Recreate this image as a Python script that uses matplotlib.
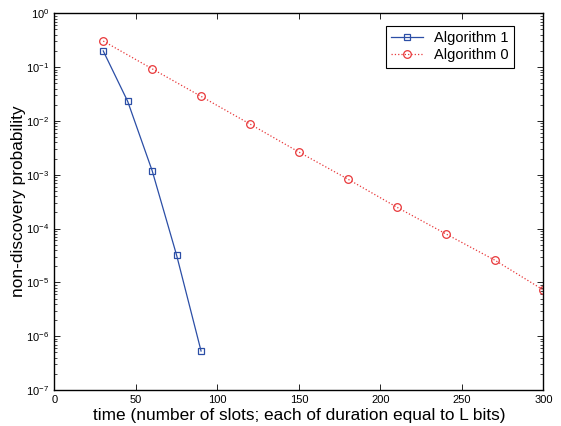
import matplotlib.pyplot as plt
from matplotlib.ticker import LogLocator, NullFormatter

# data
t_alg1 = [30, 45, 60, 75, 90]
p_alg1 = [0.20, 0.0231, 1.19e-3, 3.2e-5, 5.3e-7]

t_alg0 = [30, 60, 90, 120, 150, 180, 210, 240, 270, 300]
p_alg0 = [0.305, 0.093, 0.0286, 8.75e-3, 2.64e-3, 8.3e-4, 2.5e-4, 8.0e-5, 2.6e-5, 7.2e-6]

plt.rcParams["font.family"] = ["Liberation Sans", "DejaVu Sans"]

fig = plt.figure(figsize=(5.61, 4.26), dpi=100)
ax = fig.add_axes([0.0968, 0.0845, 0.872, 0.8843])

ax.semilogy(t_alg1, p_alg1, color="#2b4ea6", linestyle="-", linewidth=0.9,
            marker="s", markersize=4.5, markerfacecolor="none",
            markeredgewidth=0.9, label="Algorithm 1")
ax.semilogy(t_alg0, p_alg0, color="#e8383a", linestyle=":", linewidth=0.9,
            marker="o", markersize=5.5, markerfacecolor="none",
            markeredgewidth=0.9, label="Algorithm 0")

ax.set_xlim(0, 300)
ax.set_ylim(1e-7, 1)
ax.set_xticks([0, 50, 100, 150, 200, 250, 300])
ax.yaxis.set_major_locator(LogLocator(base=10, numticks=10))
ax.yaxis.set_minor_locator(LogLocator(base=10, subs=range(2, 10), numticks=20))
ax.yaxis.set_minor_formatter(NullFormatter())

ax.tick_params(which="both", direction="in", top=True, right=True, labelsize=8)
ax.tick_params(which="major", length=4, width=0.6)
ax.tick_params(which="minor", length=2, width=0.5)
for s in ax.spines.values():
    s.set_linewidth(1.0)

ax.set_xlabel("time (number of slots; each of duration equal to L bits)", fontsize=12.4, labelpad=2)
ax.set_ylabel("non-discovery probability", fontsize=12.4)
ax.yaxis.set_label_coords(-0.058, 0.5)

leg = ax.legend(loc="upper right", bbox_to_anchor=(0.94, 0.967), fontsize=10.5,
                fancybox=False, framealpha=1, edgecolor="black",
                borderaxespad=0, handlelength=2.2, borderpad=0.35,
                labelspacing=0.25)
leg.get_frame().set_linewidth(0.8)

plt.savefig("out.png", dpi=100)
